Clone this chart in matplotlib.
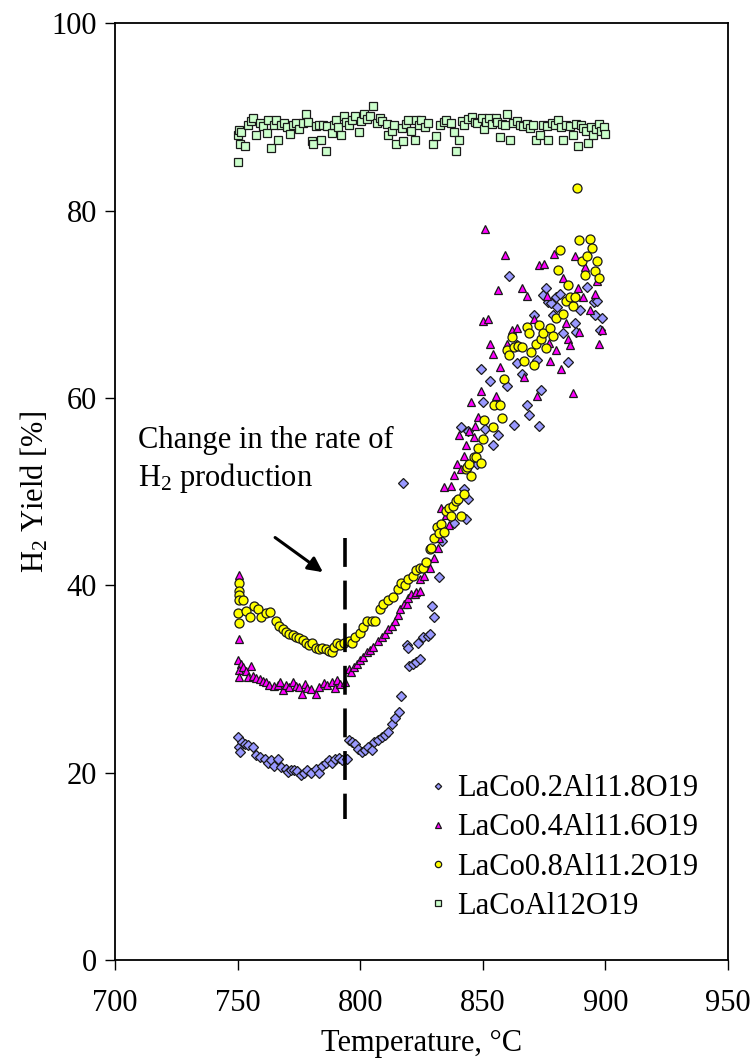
import matplotlib
matplotlib.use("Agg")
import matplotlib.pyplot as plt

plt.rcParams["font.family"] = ["Liberation Serif", "DejaVu Serif"]
plt.rcParams["mathtext.fontset"] = "custom"
plt.rcParams["mathtext.rm"] = "Liberation Serif"
plt.rcParams["mathtext.it"] = "Liberation Serif:italic"

# LaCo0.2Al11.8O19
t_co02 = [750.3, 750.5, 750.9, 751.6, 752.9, 754.3, 756.3, 757.6, 759.0, 761.0,
          762.6, 763.7, 765.0, 766.6, 767.7, 769.7, 770.7, 771.8, 773.1, 774.4,
          775.8, 777.1, 778.5, 780.1, 781.8, 783.2, 784.5, 785.9, 787.2, 788.6,
          789.9, 791.2, 792.6, 794.6, 795.3, 796.6, 798.0, 799.3, 800.7, 802.0,
          803.3, 804.7, 805.8, 807.4, 808.7, 810.1, 811.4, 812.8, 814.1, 815.8,
          816.8, 817.5, 818.9, 819.5, 820.1, 821.5, 822.9, 823.6, 824.2, 825.6,
          827.6, 828.3, 829.3, 830.3, 832.3, 833.4, 838.4, 842.4, 843.1, 844.1,
          846.7, 847.8, 841.0, 844.1, 849.1, 850.2, 851.1, 853.1, 854.1, 856.1,
          859.9, 860.9, 862.8, 863.9, 864.0, 865.9, 867.9, 869.0, 870.9, 872.0,
          872.9, 873.7, 874.6, 875.7, 876.7, 877.7, 878.7, 879.7, 880.3, 881.6,
          882.7, 884.7, 887.8, 888.1, 889.7, 892.4, 895.2, 895.6, 896.4, 897.8,
          898.6]
y_co02 = [23.8, 22.7, 22.2, 23.3, 23.1, 22.9, 22.7, 21.9, 21.7, 21.5,
          21.0, 21.3, 20.7, 21.4, 20.6, 20.4, 20.1, 20.3, 20.3, 20.2,
          19.7, 20.0, 20.3, 20.0, 20.4, 20.0, 20.7, 21.0, 21.3, 21.0,
          21.4, 21.6, 21.3, 21.5, 23.5, 23.3, 23.0, 22.5, 22.2, 22.4,
          22.7, 22.4, 23.3, 23.5, 23.8, 24.0, 24.3, 25.2, 25.8, 26.5,
          28.2, 50.9, 33.6, 33.3, 31.4, 31.6, 31.8, 33.8, 32.1, 34.5,
          34.6, 34.8, 37.8, 36.6, 40.9, 44.7, 46.7, 50.3, 47.1, 49.2,
          53.7, 53.0, 56.9, 56.5, 63.1, 59.6, 56.7, 61.8, 55.0, 56.0,
          61.3, 73.0, 57.1, 65.7, 63.7, 62.6, 59.2, 58.2, 68.9, 64.1,
          57.0, 60.8, 71.0, 71.7, 70.3, 70.1, 68.9, 70.8, 69.7, 71.1,
          66.9, 63.8, 68.0, 67.0, 69.4, 71.9, 70.2, 68.9, 70.4, 67.3,
          68.5]

# LaCo0.4Al11.6O19
t_co04 = [750.7, 750.7, 750.2, 751.3, 750.4, 750.6, 752.3, 753.6, 754.3, 755.6,
          756.3, 757.6, 759.0, 760.3, 761.7, 763.0, 764.8, 766.4, 767.5, 768.4,
          769.7, 771.1, 772.4, 773.8, 775.1, 776.1, 777.4, 778.5, 780.1, 781.8,
          783.2, 785.2, 786.5, 788.6, 789.9, 790.6, 791.9, 793.9, 795.3, 796.2,
          797.3, 798.6, 800.0, 801.3, 802.7, 804.0, 805.4, 807.4, 808.7, 810.1,
          811.4, 812.8, 814.1, 815.5, 816.1, 817.7, 818.9, 819.5, 820.9, 822.2,
          822.9, 824.2, 824.4, 826.2, 827.0, 828.3, 830.3, 831.6, 832.3, 833.0,
          834.3, 835.0, 836.3, 837.0, 838.4, 839.4, 841.0, 840.4, 842.4, 843.1,
          844.4, 845.1, 846.4, 847.0, 848.0, 849.1, 850.2, 851.1, 852.1, 853.1,
          854.2, 855.2, 856.1, 857.2, 858.9, 859.9, 861.9, 863.9, 865.9, 866.8,
          867.9, 870.9, 872.0, 872.9, 875.0, 876.0, 877.0, 877.6, 878.9, 879.7,
          881.8, 882.7, 883.8, 884.7, 885.7, 886.7, 887.7, 888.8, 889.4, 890.8,
          891.7, 893.9, 895.7, 896.5, 897.5, 898.6]
y_co04 = [41.1, 34.3, 32.0, 31.6, 31.0, 30.2, 31.3, 30.9, 30.2, 31.4,
          30.3, 30.1, 30.0, 29.8, 29.7, 29.4, 29.2, 29.3, 29.7, 28.8,
          29.3, 29.1, 29.7, 29.2, 29.1, 28.4, 29.5, 29.0, 28.9, 28.4,
          29.1, 29.6, 29.3, 29.7, 29.0, 29.9, 29.5, 29.7, 31.1, 30.7,
          31.3, 31.6, 32.0, 32.3, 32.9, 33.1, 33.4, 34.1, 34.5, 34.8,
          35.3, 35.7, 36.2, 36.8, 37.5, 38.0, 38.0, 38.6, 39.1, 39.1,
          39.3, 40.7, 39.4, 41.0, 42.0, 41.8, 42.9, 44.0, 45.0, 48.2,
          50.5, 47.5, 46.4, 50.6, 51.8, 52.9, 52.4, 56.0, 53.8, 55.0,
          56.5, 59.6, 55.8, 57.0, 58.0, 60.7, 68.2, 78.0, 68.4, 65.8,
          64.7, 60.2, 71.5, 63.3, 75.3, 65.8, 67.3, 67.5, 71.7, 62.2,
          70.9, 68.4, 60.2, 74.2, 74.3, 70.9, 65.9, 63.9, 75.4, 65.1,
          63.1, 72.8, 68.0, 66.3, 65.7, 60.5, 75.2, 71.7, 67.0, 70.8,
          74.0, 69.4, 71.1, 72.5, 65.8, 67.3]

# LaCo0.8Al11.2O19
t_co08 = [750.7, 750.7, 750.7, 750.5, 750.3, 750.7, 752.3, 753.6, 755.0, 756.7,
          758.3, 759.7, 761.7, 763.4, 765.7, 767.0, 768.4, 769.7, 771.1, 772.4,
          773.8, 775.1, 776.5, 777.8, 779.1, 780.5, 781.8, 783.2, 784.5, 785.9,
          787.2, 788.6, 789.2, 790.6, 791.9, 793.3, 795.3, 796.6, 798.0, 800.0,
          801.3, 802.7, 804.7, 806.0, 808.0, 809.4, 811.4, 813.4, 815.4, 816.8,
          818.2, 819.5, 821.5, 822.8, 824.2, 825.6, 826.9, 828.3, 828.9, 830.3,
          831.4, 832.3, 833.0, 834.3, 835.0, 836.3, 837.0, 837.7, 839.0, 839.7,
          841.0, 842.4, 843.1, 843.7, 844.4, 845.1, 846.4, 847.1, 848.0, 849.1,
          850.2, 850.7, 854.1, 854.7, 856.9, 858.0, 858.8, 859.9, 860.9, 861.9,
          862.8, 864.2, 865.9, 866.8, 867.9, 868.7, 869.8, 870.9, 871.7, 872.8,
          873.7, 874.6, 875.7, 877.6, 878.7, 879.8, 880.7, 881.6, 882.7, 883.8,
          884.6, 885.4, 886.7, 887.7, 888.5, 889.4, 890.5, 891.6, 892.4, 893.7,
          894.5, 895.6, 896.4, 897.5]
y_co08 = [40.2, 39.4, 39.0, 38.4, 37.0, 36.0, 38.4, 37.3, 36.6, 37.8,
          37.5, 36.6, 37.0, 37.2, 36.2, 35.6, 35.3, 35.0, 34.8, 34.7,
          34.5, 34.4, 34.2, 33.8, 33.6, 33.8, 33.3, 33.2, 33.3, 33.2,
          33.0, 32.9, 33.4, 33.8, 33.6, 33.8, 34.1, 33.8, 34.5, 34.9,
          35.5, 36.2, 36.2, 36.2, 37.5, 38.0, 38.4, 38.8, 39.6, 40.2,
          40.0, 40.7, 41.0, 41.6, 41.8, 41.8, 42.5, 43.9, 44.0, 45.1,
          46.2, 45.6, 46.5, 45.7, 47.9, 48.2, 47.4, 48.5, 49.0, 49.2,
          47.4, 49.8, 52.4, 52.6, 53.0, 51.7, 53.7, 53.7, 54.7, 53.1,
          55.6, 57.6, 56.9, 59.3, 59.3, 57.9, 62.0, 65.1, 64.6, 66.5,
          65.4, 65.6, 65.4, 64.0, 67.6, 66.9, 64.9, 63.5, 65.8, 67.8,
          66.3, 66.9, 65.3, 67.5, 66.6, 68.5, 73.7, 75.8, 69.0, 70.4,
          72.1, 70.8, 69.8, 70.8, 82.4, 76.9, 74.6, 73.1, 75.2, 77.0,
          76.0, 73.6, 74.6, 72.8]

# LaCoAl12O19
t_co10 = [750.0, 750.3, 750.4, 750.9, 751.5, 753.0, 754.4, 755.5, 756.4, 757.7,
          759.1, 760.2, 761.8, 762.4, 763.8, 764.8, 765.8, 766.5, 767.8, 769.1,
          770.3, 771.2, 772.5, 773.8, 775.2, 776.5, 777.9, 778.6, 780.2, 780.6,
          781.8, 783.3, 783.9, 785.0, 786.0, 786.6, 788.6, 789.3, 790.0, 791.0,
          792.0, 793.3, 794.2, 795.4, 796.7, 798.0, 799.4, 800.2, 801.4, 802.8,
          804.1, 805.4, 806.8, 808.0, 808.8, 810.8, 811.5, 812.8, 814.0, 814.8,
          816.9, 817.5, 818.5, 819.6, 820.9, 822.2, 822.9, 824.0, 825.0, 826.3,
          827.6, 829.6, 831.0, 832.5, 834.0, 835.0, 837.0, 838.4, 839.1, 840.4,
          841.5, 842.4, 843.8, 845.8, 846.9, 847.8, 849.8, 850.5, 851.5, 852.5,
          853.8, 855.2, 856.0, 857.2, 858.0, 859.2, 859.9, 861.2, 862.5, 863.9,
          865.2, 866.6, 868.0, 869.3, 870.5, 871.7, 873.3, 874.5, 876.0, 876.7,
          878.2, 879.5, 880.7, 882.0, 882.7, 884.0, 885.4, 886.8, 888.0, 888.8,
          890.1, 891.0, 892.1, 892.8, 894.0, 894.8, 896.0, 897.5, 898.2, 899.5,
          900.0]
y_co10 = [85.2, 88.1, 88.6, 87.1, 88.4, 86.9, 89.2, 89.6, 89.9, 88.1,
          89.4, 89.0, 88.3, 89.7, 86.7, 89.1, 89.7, 87.6, 89.2, 89.4,
          88.9, 88.2, 89.1, 89.4, 88.7, 89.4, 90.3, 89.5, 87.4, 87.1,
          89.0, 89.2, 87.6, 89.1, 86.4, 89.0, 88.3, 89.2, 89.7, 88.9,
          88.1, 90.1, 89.5, 89.2, 89.7, 90.1, 88.4, 89.6, 90.3, 89.8,
          90.1, 91.2, 89.4, 89.9, 89.6, 89.3, 88.1, 88.5, 89.2, 87.1,
          88.8, 87.4, 89.3, 89.7, 88.5, 87.6, 89.7, 89.2, 89.7, 88.9,
          89.4, 87.1, 88.0, 89.2, 89.5, 89.7, 89.4, 88.4, 86.4, 87.5,
          89.6, 89.2, 89.8, 90.0, 89.5, 89.4, 89.9, 88.7, 89.5, 89.9,
          89.3, 89.9, 89.5, 87.9, 89.3, 89.2, 90.3, 87.6, 89.4, 89.6,
          89.1, 89.0, 89.3, 88.8, 89.2, 87.5, 88.1, 89.1, 89.0, 87.6,
          89.4, 89.2, 89.7, 88.9, 87.5, 89.1, 89.0, 88.1, 89.3, 86.9,
          89.2, 88.8, 88.5, 87.2, 88.9, 88.1, 88.7, 89.3, 88.5, 88.9,
          88.2]

# label, temperatures, yields, marker, face colour, marker size
series = [
    ("LaCo0.2Al11.8O19", t_co02, y_co02, "D", "#9999ff", 4.6),
    ("LaCo0.4Al11.6O19", t_co04, y_co04, "^", "#ff00ff", 6.3),
    ("LaCo0.8Al11.2O19", t_co08, y_co08, "o", "#ffff00", 6.5),
    ("LaCoAl12O19", t_co10, y_co10, "s", "#ccffcc", 5.8),
]

fig = plt.figure(figsize=(7.56, 10.63), dpi=100)
ax = fig.add_axes([0.1521, 0.097, 0.8108, 0.881])

for label, t, y, marker, color, size in series:
    ax.plot(t, y, linestyle="none", marker=marker, markersize=size,
            markerfacecolor=color, markeredgecolor="#1a1a1a",
            markeredgewidth=0.9, label=label)

# dashed line where the slope changes
ax.plot([793.8, 793.8], [45.1, 15.0], color="black", linewidth=2.6,
        linestyle=(0, (8, 3.8)))

ax.annotate("", xy=(784.8, 41.4), xytext=(765.3, 45.1),
            arrowprops=dict(arrowstyle="-|>", color="black", lw=2.2,
                            mutation_scale=22, shrinkA=0, shrinkB=0))
ax.text(709.4, 54.7, "Change in the rate of", fontsize=22, va="baseline")
ax.text(709.4, 50.6, r"H$_2$ production", fontsize=22, va="baseline")

ax.set_xlim(700, 950)
ax.set_ylim(0, 100)
ax.set_xticks([700, 750, 800, 850, 900, 950])
ax.set_yticks([0, 20, 40, 60, 80, 100])
ax.tick_params(axis="both", labelsize=22, direction="out", length=7, width=1)
ax.tick_params(axis="x", pad=14)
ax.tick_params(axis="y", pad=6)
for spine in ax.spines.values():
    spine.set_linewidth(1.3)

ax.set_xlabel("Temperature, °C", fontsize=22, labelpad=8)
ax.set_ylabel(r"H$_2$ Yield [%]", fontsize=22, labelpad=1)

ax.legend(loc="center left", bbox_to_anchor=(0.514, 0.12), frameon=False,
          fontsize=22, markerscale=0.7, handlelength=0.5, handletextpad=0.4,
          labelspacing=0.33, borderpad=0, borderaxespad=0)

fig.savefig("out.png", dpi=100)
